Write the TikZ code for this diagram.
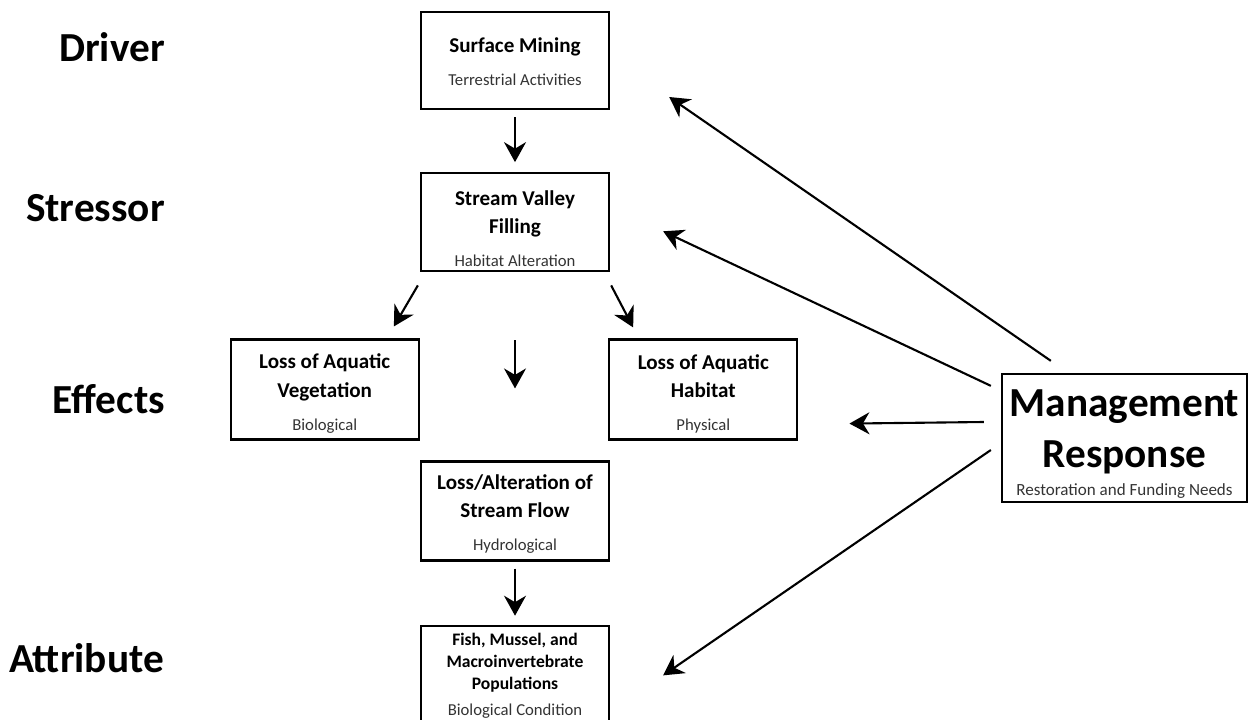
\documentclass[tikz,border=0pt]{standalone}
\usepackage{fontspec}
\setmainfont{Carlito}
\usepackage{tikz}
\usetikzlibrary{arrows.meta,positioning,calc}
\tikzset{
  cbox/.style={rectangle, draw, line width=1.3pt, align=center, font=\large\bfseries,
               minimum width=3.76cm, minimum height=#1, inner sep=2pt},
  cbox/.default=1.96cm,
  lvl/.style={anchor=base east, font=\fontsize{23.5}{28}\selectfont\bfseries},
  arr/.style={-{Stealth[length=4mm, width=4.4mm, inset=1.3mm]}, line width=1.2pt},
}
\newcommand{\subl}[1]{{\fontsize{9.5}{11}\selectfont\mdseries\color{black!80}#1}}

\begin{document}
\begin{tikzpicture}
    \useasboundingbox (0,0) rectangle (24.98,-14.38);
    % levels
    \node[lvl] (l1) at (3.42,-1.24) {Driver};
    \node[lvl] (l2) at (3.42,-4.42) {Stressor};
    \node[lvl] (l3) at (3.42,-8.26) {Effects};
    \node[lvl] (l4) at (3.40,-13.44) {Attribute};
    % chain
    \node[cbox=1.94cm] (a) at (10.30,-1.21)
      {\rule{0pt}{10pt}Surface Mining\\[4.8pt]\subl{Terrestrial Activities}};
    \node[cbox, below=1.24cm of a] (b)
      {\rule{0pt}{15.5pt}Stream Valley\\[2pt]Filling\\[4.8pt]\subl{Habitat Alteration}};
    \node[cbox=2cm, below left=1.32cm and 0cm of b] (c)
      {\rule{0pt}{13pt}Loss of Aquatic\\[2pt]Vegetation\\[4.8pt]\subl{Biological}};
    \node[cbox=2cm, below right=1.32cm and -0.04cm of b] (d)
      {\rule{0pt}{13pt}Loss of Aquatic\\[2pt]Habitat\\[4.8pt]\subl{Physical}};
    \node[cbox=1.98cm, below=3.76cm of b] (e)
      {\rule{0pt}{12pt}Loss/Alteration of\\[2pt]Stream Flow\\[4.8pt]\subl{Hydrological}};
    \node[cbox=2.2cm, below=1.26cm of e, font=\normalsize\bfseries, text depth=0.26cm] (f)
      {Fish, Mussel, and\\[0.5pt]Macroinvertebrate\\[0.5pt]Populations\\[3pt]\subl{Biological Condition}};
    \node[cbox=2.56cm, minimum width=4.9cm, font=\fontsize{23.5}{29}\selectfont\bfseries] (m) at (22.49,-8.76)
      {\rule{0pt}{22pt}Management\\Response\\[-13pt]{\fontsize{9.7}{11}\selectfont\mdseries\color{black!80}Restoration and Funding Needs}};
    % arrows
    \draw[arr, shorten <=0.14cm, shorten >=0.2cm] (a) -- (b);
    \draw[arr] ([shift={(-0.04,-0.26)}]b.south west) -- ([shift={(-0.52,0.24)}]c.north east);
    \draw[arr] ([shift={(0.02,-0.26)}]b.south east) -- ([shift={(0.5,0.22)}]d.north west);
    \draw[arr] ([yshift=-1.36cm]b.south) -- ([yshift=1.44cm]e.north);
    \draw[arr, shorten <=0.14cm, shorten >=0.18cm] (e) -- (f);
    \draw[arr] ([shift={(1.0,0.24)}]m.north west) -- ([shift={(1.18,-0.73)}]a.east);
    \draw[arr] ([shift={(-0.2,-0.26)}]m.north west) -- ([shift={(1.06,-0.18)}]b.east);
    \draw[arr] ([shift={(-0.34,0.32)}]m.west) -- ([shift={(1.02,-0.68)}]d.east);
    \draw[arr] ([shift={(-0.2,-0.24)}]m.west) -- ([shift={(1.06,0.11)}]f.east);
\end{tikzpicture}
\end{document}
